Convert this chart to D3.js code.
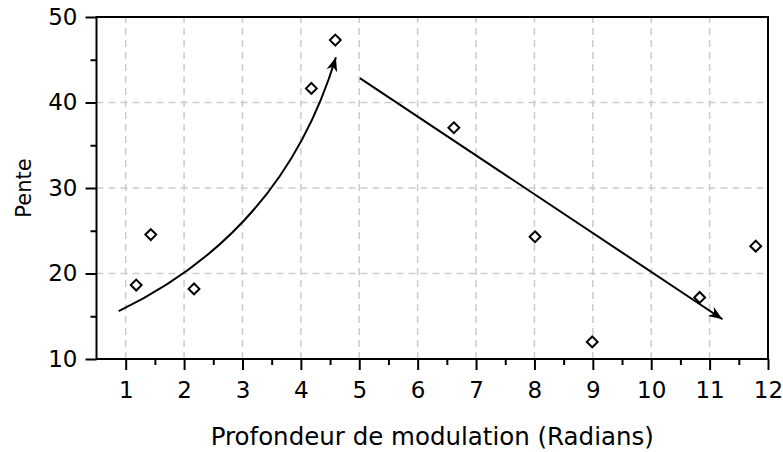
<!DOCTYPE html>
<html>
<head>
<meta charset="utf-8">
<script src="https://cdn.jsdelivr.net/npm/d3@7"></script>
<style>
  body { margin: 0; background: #fff; }
  text { font-family: "DejaVu Sans", Verdana, sans-serif; fill: #000; }
</style>
</head>
<body>
<svg id="chart" width="783" height="452"></svg>
<script>
// Measured slope versus modulation depth
const depth = [1.18, 1.43, 2.17, 4.18, 4.59, 6.62, 8.01, 8.99, 10.83, 11.79];
const slope = [18.65, 24.55, 18.2, 41.65, 47.3, 37.05, 24.3, 12.0, 17.2, 23.2];

// Axis ticks
const xTicks = [1, 2, 3, 4, 5, 6, 7, 8, 9, 10, 11, 12];
const xMinorTicks = [1.5, 2.5, 3.5, 4.5, 5.5, 6.5, 7.5, 8.5, 9.5, 10.5, 11.5];
const yTicks = [10, 20, 30, 40, 50];
const yMinorTicks = [15, 25, 35, 45];

// Trend annotations (data coordinates): rising curve and falling line
const riseStart = [0.88, 15.6];
const riseEnd = [4.6, 45.3];
const fallStart = [5.01, 42.85];
const fallEnd = [11.22, 14.65];

const W = 783, H = 452;
const margin = { left: 96.5, top: 17, right: W - 768, bottom: H - 359 };

const svg = d3.select("#chart");

const x = d3.scaleLinear().domain([0.5, 12]).range([margin.left, W - margin.right]);
const y = d3.scaleLinear().domain([10, 50]).range([H - margin.bottom, margin.top]);

// Dashed grid
const grid = svg.append("g").attr("stroke", "#cccccc").attr("stroke-width", 1.5)
  .attr("stroke-dasharray", "7,5");
grid.selectAll("line.gx").data(xTicks.filter(d => d < 12)).join("line")
  .attr("x1", d => x(d)).attr("x2", d => x(d))
  .attr("y1", y(10)).attr("y2", y(50));
grid.selectAll("line.gy").data(yTicks.filter(d => d > 10 && d < 50)).join("line")
  .attr("x1", x(0.5)).attr("x2", x(12))
  .attr("y1", d => y(d)).attr("y2", d => y(d));

// Axes
const tickFont = 23;
const xAxis = svg.append("g").attr("transform", `translate(0,${y(10)})`)
  .call(d3.axisBottom(x).tickValues(xTicks).tickSize(11).tickPadding(12).tickFormat(d3.format("d")));
const xMinor = svg.append("g").attr("transform", `translate(0,${y(10)})`)
  .call(d3.axisBottom(x).tickValues(xMinorTicks).tickSize(6).tickFormat(""));
const yAxis = svg.append("g").attr("transform", `translate(${x(0.5)},0)`)
  .call(d3.axisLeft(y).tickValues(yTicks).tickSize(11).tickPadding(8).tickFormat(d3.format("d")));
const yMinor = svg.append("g").attr("transform", `translate(${x(0.5)},0)`)
  .call(d3.axisLeft(y).tickValues(yMinorTicks).tickSize(6).tickFormat(""));

[xAxis, xMinor, yAxis, yMinor].forEach(g => {
  g.select(".domain").remove();
  g.selectAll(".tick line").attr("stroke", "#000").attr("stroke-width", 2);
  g.selectAll(".tick text").attr("font-size", tickFont)
    .attr("font-family", '"DejaVu Sans", Verdana, sans-serif');
});

// Frame around the plot area
svg.append("rect")
  .attr("x", x(0.5)).attr("y", y(50))
  .attr("width", x(12) - x(0.5)).attr("height", y(10) - y(50))
  .attr("fill", "none").attr("stroke", "#000").attr("stroke-width", 2);

// Arrowhead marker
const defs = svg.append("defs");
defs.append("marker")
  .attr("id", "head")
  .attr("markerUnits", "userSpaceOnUse")
  .attr("viewBox", "-15 -7 16 14")
  .attr("refX", 0).attr("refY", 0)
  .attr("markerWidth", 16).attr("markerHeight", 14)
  .attr("orient", "auto")
  .append("path")
  .attr("d", "M0,0 L-14,-5.5 L-10,0 L-14,5.5 Z")
  .attr("fill", "#000");

// Rising curve (quadratic arc between the two endpoints)
const p0 = [x(riseStart[0]), y(riseStart[1])];
const p2 = [x(riseEnd[0]), y(riseEnd[1])];
const rad = 0.22;
const mx = (p0[0] + p2[0]) / 2, my = (p0[1] + p2[1]) / 2;
const dx = p2[0] - p0[0], dy = p2[1] - p0[1];
const ctrl = [mx - rad * dy, my + rad * dx];
const curve = d3.path();
curve.moveTo(p0[0], p0[1]);
curve.quadraticCurveTo(ctrl[0], ctrl[1], p2[0], p2[1]);
svg.append("path")
  .attr("d", curve.toString())
  .attr("fill", "none").attr("stroke", "#000").attr("stroke-width", 2)
  .attr("marker-end", "url(#head)");

// Falling straight arrow
svg.append("line")
  .attr("x1", x(fallStart[0])).attr("y1", y(fallStart[1]))
  .attr("x2", x(fallEnd[0])).attr("y2", y(fallEnd[1]))
  .attr("stroke", "#000").attr("stroke-width", 2)
  .attr("marker-end", "url(#head)");

// Open diamond markers
const diamond = d3.symbol().type(d3.symbolDiamond2).size(75);
svg.append("g").selectAll("path.pt").data(depth.map((d, i) => [d, slope[i]])).join("path")
  .attr("transform", d => `translate(${x(d[0])},${y(d[1])})`)
  .attr("d", diamond)
  .attr("fill", "#fff").attr("stroke", "#000").attr("stroke-width", 2);

// Axis titles
svg.append("text")
  .attr("x", (x(0.5) + x(12)) / 2).attr("y", 445)
  .attr("text-anchor", "middle").attr("font-size", 24.5)
  .text("Profondeur de modulation (Radians)");
svg.append("text")
  .attr("transform", `translate(31,${(y(10) + y(50)) / 2}) rotate(-90)`)
  .attr("text-anchor", "middle").attr("font-size", 21)
  .text("Pente");
</script>
</body>
</html>
